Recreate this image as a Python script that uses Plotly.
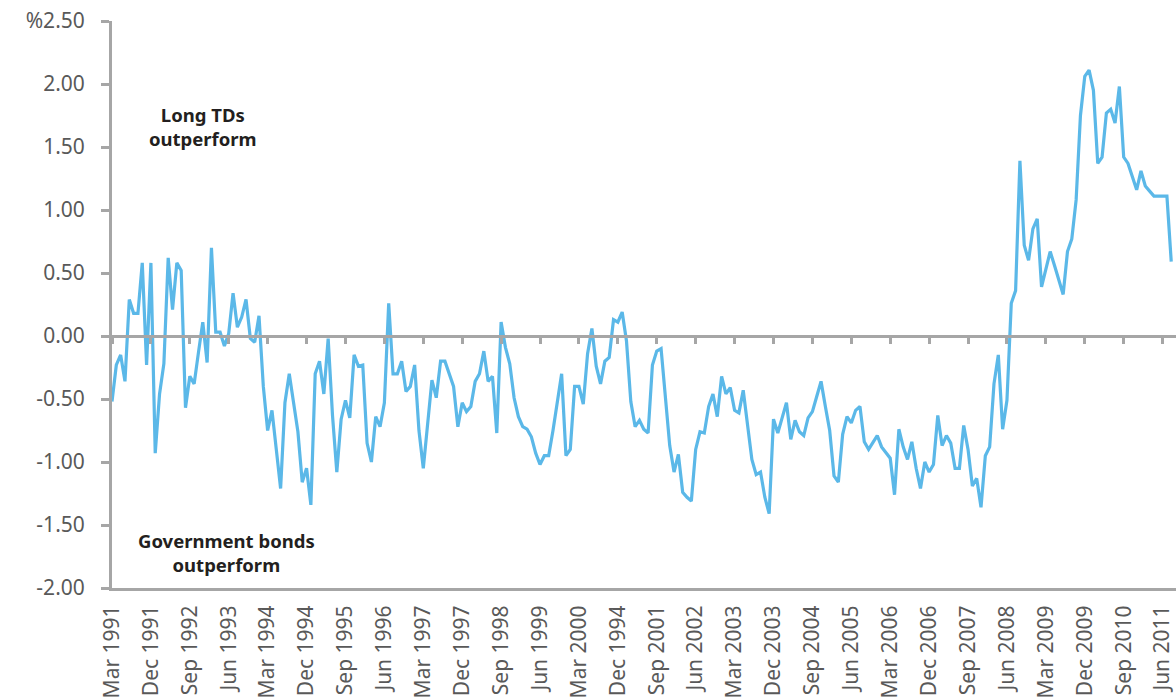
import plotly.graph_objects as go

# Monthly spread (%), Mar 1991 .. Aug 2011
spread = [
    -0.52, -0.23, -0.15, -0.36, 0.29, 0.18, 0.18, 0.58, -0.23, 0.58,
    -0.93, -0.46, -0.22, 0.62, 0.21, 0.58, 0.52, -0.57, -0.32, -0.38,
    -0.13, 0.11, -0.21, 0.70, 0.03, 0.03, -0.08, 0.02, 0.34, 0.07,
    0.15, 0.29, -0.02, -0.05, 0.16, -0.40, -0.75, -0.59, -0.90, -1.21,
    -0.53, -0.30, -0.53, -0.76, -1.16, -1.05, -1.34, -0.30, -0.20, -0.46,
    -0.02, -0.63, -1.08, -0.66, -0.51, -0.65, -0.15, -0.24, -0.23, -0.85,
    -1.00, -0.64, -0.72, -0.53, 0.26, -0.30, -0.30, -0.20, -0.44, -0.40,
    -0.23, -0.75, -1.05, -0.71, -0.35, -0.49, -0.20, -0.20, -0.30, -0.40,
    -0.72, -0.53, -0.60, -0.56, -0.36, -0.30, -0.12, -0.36, -0.32, -0.77,
    0.11, -0.09, -0.22, -0.49, -0.64, -0.72, -0.74, -0.80, -0.93, -1.02,
    -0.95, -0.95, -0.75, -0.51, -0.30, -0.95, -0.90, -0.40, -0.40, -0.54,
    -0.14, 0.06, -0.24, -0.38, -0.20, -0.17, 0.13, 0.11, 0.19, -0.04,
    -0.52, -0.72, -0.67, -0.74, -0.77, -0.23, -0.12, -0.10, -0.50, -0.87,
    -1.08, -0.94, -1.24, -1.28, -1.31, -0.90, -0.76, -0.77, -0.56, -0.46,
    -0.64, -0.32, -0.46, -0.41, -0.59, -0.61, -0.43, -0.72, -0.98, -1.10,
    -1.08, -1.28, -1.41, -0.66, -0.77, -0.65, -0.53, -0.82, -0.67, -0.76,
    -0.79, -0.65, -0.60, -0.48, -0.36, -0.56, -0.75, -1.11, -1.16, -0.78,
    -0.64, -0.69, -0.59, -0.56, -0.84, -0.90, -0.84, -0.79, -0.88, -0.93,
    -0.97, -1.26, -0.74, -0.88, -0.98, -0.84, -1.05, -1.21, -1.00, -1.08,
    -1.02, -0.63, -0.87, -0.79, -0.85, -1.05, -1.05, -0.71, -0.90, -1.19,
    -1.13, -1.36, -0.95, -0.88, -0.38, -0.15, -0.74, -0.51, 0.26, 0.36,
    1.39, 0.72, 0.60, 0.85, 0.93, 0.39, 0.53, 0.67, 0.56, 0.45,
    0.33, 0.67, 0.77, 1.08, 1.75, 2.06, 2.11, 1.95, 1.37, 1.42,
    1.77, 1.80, 1.69, 1.98, 1.42, 1.37, 1.26, 1.16, 1.31, 1.19,
    1.15, 1.11, 1.11, 1.11, 1.11, 0.59,
]
month_index = list(range(len(spread)))  # 0 = Mar 1991

tick_labels = [
    "Mar 1991", "Dec 1991", "Sep 1992", "Jun 1993", "Mar 1994", "Dec 1994",
    "Sep 1995", "Jun 1996", "Mar 1997", "Dec 1997", "Sep 1998", "Jun 1999",
    "Mar 2000", "Dec 1994", "Sep 2001", "Jun 2002", "Mar 2003", "Dec 2003",
    "Sep 2004", "Jun 2005", "Mar 2006", "Dec 2006", "Sep 2007", "Jun 2008",
    "Mar 2009", "Dec 2009", "Sep 2010", "Jun 2011",
]
tick_months = list(range(0, 9 * len(tick_labels), 9))

y_ticks = [-2.0, -1.5, -1.0, -0.5, 0.0, 0.5, 1.0, 1.5, 2.0, 2.5]
y_tick_text = ["-2.00", "-1.50", "-1.00", "-0.50", "0.00", "0.50",
               "1.00", "1.50", "2.00", "%2.50"]

note_texts = ["Long TDs<br>outperform", "Government bonds<br>outperform"]
note_x = [21.1, 26.5]
note_y = [1.66, -1.72]

AXIS = "#A6A6A6"
LABEL = "#595959"
FONT = "Noto Sans"

fig = go.Figure()
fig.add_trace(go.Scatter(
    x=month_index, y=spread, mode="lines",
    line=dict(color="#5BB8E8", width=3.2),
    showlegend=False, hoverinfo="skip",
))
# helper trace so that the zero-line axis (x2) is drawn
fig.add_trace(go.Scatter(
    x=[month_index[0]], y=[None], xaxis="x2", mode="lines",
    showlegend=False, hoverinfo="skip",
))

for t, xx, yy in zip(note_texts, note_x, note_y):
    fig.add_annotation(
        x=xx, y=yy, xref="x", yref="y", text="<b>" + t + "</b>",
        showarrow=False, align="center",
        font=dict(family=FONT, size=18.5, color="#231F20"),
    )

x_range = [0, 246.1]
fig.update_layout(
    width=1176, height=700,
    margin=dict(l=112, r=0, t=21, b=112),
    paper_bgcolor="white", plot_bgcolor="white",
    font=dict(family=FONT, color=LABEL),
    xaxis=dict(
        range=x_range, tickmode="array", tickvals=tick_months,
        ticktext=tick_labels, tickangle=-90, ticks="",
        showline=True, linecolor=AXIS, linewidth=3,
        showgrid=False, zeroline=False,
        tickfont=dict(family=FONT, size=21, color=LABEL),
        ticklabelstandoff=6, automargin=False,
    ),
    xaxis2=dict(
        range=x_range, overlaying="x", anchor="free", position=2 / 4.5,
        side="bottom", tickmode="array", tickvals=tick_months,
        showticklabels=False, ticks="outside", ticklen=6, tickwidth=3,
        tickcolor=AXIS, showline=True, linecolor=AXIS, linewidth=3,
        showgrid=False, zeroline=False,
    ),
    yaxis=dict(
        range=[-2.0, 2.5], tickmode="array", tickvals=y_ticks,
        ticktext=y_tick_text, ticks="outside", ticklen=8, tickwidth=3,
        tickcolor=AXIS, showline=True, linecolor=AXIS, linewidth=3,
        showgrid=False, zeroline=False,
        tickfont=dict(family=FONT, size=21, color=LABEL),
        ticklabelstandoff=12, automargin=False,
    ),
)

fig.write_html("out.html", config={"displayModeBar": False},
               post_script="document.body.style.margin='0';")
